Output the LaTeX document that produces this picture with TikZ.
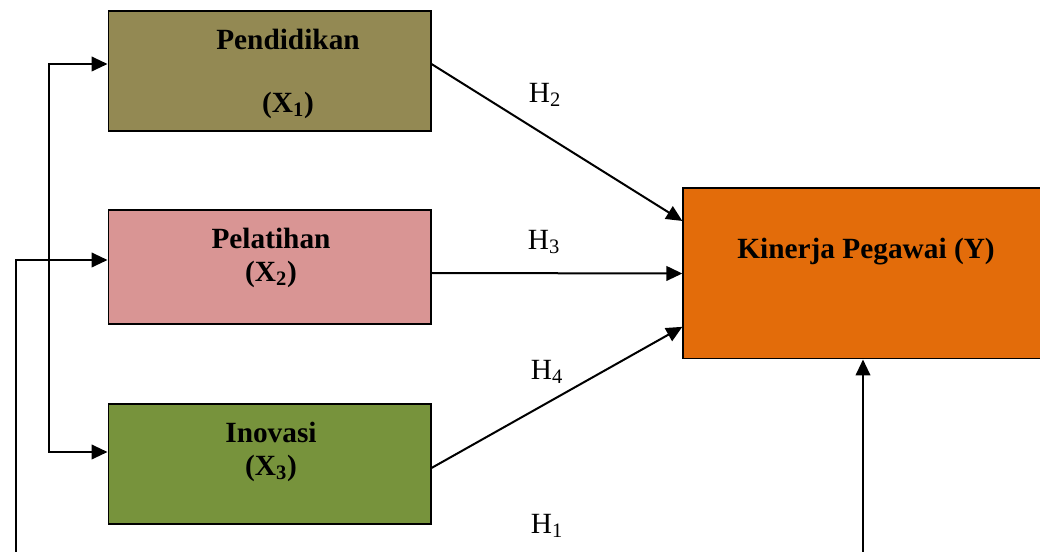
\documentclass[tikz,border=0pt]{standalone}
\usepackage{fontspec}
\setmainfont{Liberation Serif}
\usetikzlibrary{arrows.meta,positioning}
\definecolor{olive}{HTML}{938953}
\definecolor{rose}{HTML}{D99594}
\definecolor{leaf}{HTML}{77933C}
\definecolor{orange}{HTML}{E36C0A}
\tikzset{
	varbox/.style={draw, line width=1pt, minimum width=242pt, minimum height=90pt, inner sep=0pt},
	vartext/.style={align=center, font=\fontsize{22}{25}\selectfont\bfseries},
	hyp/.style={font=\fontsize{22}{25}\selectfont}
}

\begin{document}
\begin{tikzpicture}[x=0.75pt, y=-0.75pt, >={Triangle[length=12pt,width=11pt]}, line width=1.5pt]
	\useasboundingbox (0,0) rectangle (1040,552);
	\clip (0,0) rectangle (1040,552);
	% boxes
	\node (x1) at (269.5,71) [varbox, fill=olive] {};
	\node (x2) at (269.5,267) [varbox, fill=rose, minimum height=85.5pt] {};
	\node (x3) at (269.5,464) [varbox, fill=leaf] {};
	\node (y) at (866,273.5) [varbox, fill=orange, minimum width=274.5pt, minimum height=128pt] {};
	\node (x1t) at (288,74) [vartext] {Pendidikan\\[22pt](X\textsubscript{1})};
	\node (x2t) at (271,258) [vartext] {Pelatihan\\(X\textsubscript{2})};
	\node (x3t) at (271,452) [vartext] {Inovasi\\(X\textsubscript{3})};
	\node (yt) at (866,252) [vartext] {Kinerja Pegawai (Y)};
	% hypotheses
	\node (h2) at (545,95) [hyp] {H\textsubscript{2}};
	\node (h3) at (544,242) [hyp] {H\textsubscript{3}};
	\node (h4) at (547,372) [hyp] {H\textsubscript{4}};
	\node (h1) at (547,526) [hyp] {H\textsubscript{1}};
	% arrows
	\draw [->] ([yshift=5.25pt]x1.east) -- ([yshift=39.4pt]y.west);
	\draw [->] ([yshift=-4.5pt]x2.east) -- ([yshift=0pt]y.west);
	\draw [->] ([yshift=-3pt]x3.east) -- ([yshift=-40pt]y.west);
	\draw [<->] ([yshift=5.25pt]x1.west) -- ++(-59,0) |- ([yshift=9pt]x3.west);
	\coordinate (inL) at (16,580);
	\coordinate (inR) at (863,580);
	\draw [->] (inL) |- ([yshift=5.25pt]x2.west);
	\draw [->] (inR) -- (inR |- y.south);
\end{tikzpicture}
\end{document}
